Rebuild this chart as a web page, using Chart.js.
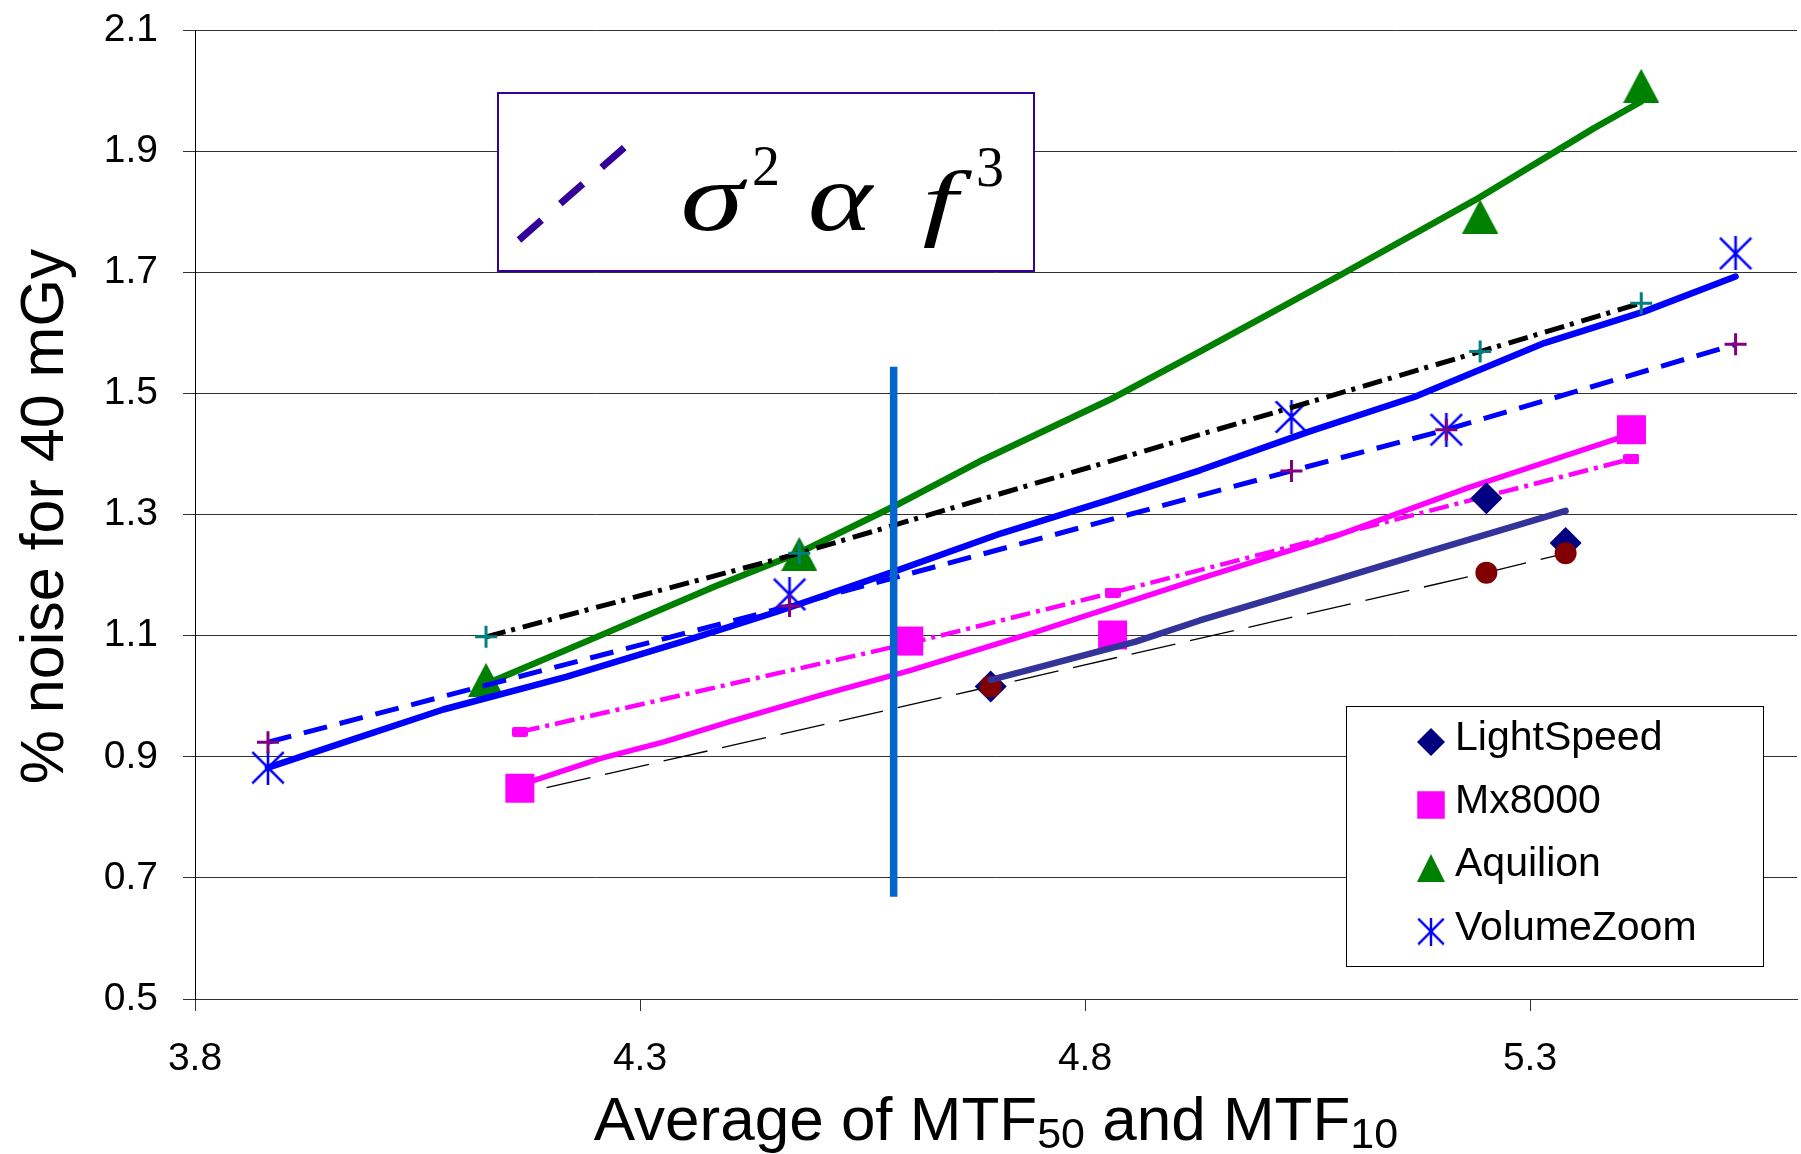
<!DOCTYPE html>
<html>
<head>
<meta charset="utf-8">
<title>Noise versus resolution</title>
<script src="https://cdn.jsdelivr.net/npm/chart.js@4.4.1/dist/chart.umd.min.js"></script>
<style>
  html, body { margin: 0; padding: 0; background: #ffffff; }
  #chart { display: block; }
</style>
</head>
<body>
<canvas id="chart" width="1801" height="1154"></canvas>
<script>
// ---- axis ticks ----
const xTicks = [3.8, 4.3, 4.8, 5.3];
const yTicks = [0.5, 0.7, 0.9, 1.1, 1.3, 1.5, 1.7, 1.9, 2.1];

// ---- measured noise for each scanner ----
const scannerNames = ['LightSpeed', 'Mx8000', 'Aquilion', 'VolumeZoom'];
const lightSpeedX = [4.694, 5.251, 5.340];
const lightSpeedY = [1.016, 1.327, 1.253];
const mx8000X = [4.165, 4.602, 4.831, 5.414];
const mx8000Y = [0.848, 1.091, 1.101, 1.440];
const aquilionX = [4.127, 4.479, 5.244, 5.425];
const aquilionY = [1.027, 1.235, 1.792, 2.008];
const volumeZoomX = [3.882, 4.468, 5.032, 5.206, 5.531];
const volumeZoomY = [0.882, 1.168, 1.461, 1.440, 1.731];

// ---- noise predicted by sigma^2 ~ f^3 at the same resolutions ----
const lightSpeedModelX = [4.195, 4.694, 5.251, 5.340];
const lightSpeedModelY = [0.849, 1.016, 1.204, 1.236];
const mx8000ModelY = [0.941, 1.087, 1.171, 1.392];
const aquilionModelY = [1.098, 1.236, 1.569, 1.649];
const volumeZoomModelY = [0.924, 1.149, 1.372, 1.440, 1.581];

// ---- fitted curves through the measurements ----
const aquilionFitX = [4.127, 4.255, 4.384, 4.479, 4.586, 4.685, 4.827, 4.929, 5.084, 5.238, 5.372, 5.425];
const aquilionFitY = [1.020, 1.100, 1.181, 1.237, 1.314, 1.390, 1.489, 1.569, 1.693, 1.819, 1.938, 1.982];
const volumeZoomFitX = [3.882, 3.980, 4.079, 4.217, 4.354, 4.453, 4.586, 4.706, 4.827, 4.929, 5.050, 5.170, 5.316, 5.428, 5.531];
const volumeZoomFitY = [0.882, 0.930, 0.978, 1.032, 1.093, 1.139, 1.206, 1.269, 1.324, 1.373, 1.436, 1.494, 1.583, 1.635, 1.693];
const mx8000FitX = [4.165, 4.255, 4.328, 4.401, 4.504, 4.605, 4.745, 4.929, 5.079, 5.230, 5.414];
const mx8000FitY = [0.853, 0.897, 0.925, 0.958, 1.002, 1.043, 1.106, 1.194, 1.263, 1.344, 1.433];
const lightSpeedFitX = [4.694, 4.736, 4.792, 4.857, 4.929, 5.075, 5.187, 5.340];
const lightSpeedFitY = [1.027, 1.043, 1.065, 1.090, 1.125, 1.189, 1.239, 1.306];

// ---- vertical reference line ----
const referenceX = [4.585, 4.585];
const referenceY = [0.669, 1.544];

// ---- titles ----
const yTitle = '% noise for 40 mGy';
const xTitleRuns = [['Average of MTF', false], ['50', true], [' and MTF', false], ['10', true]];

const SANS = '"Liberation Sans", Arial, Helvetica, sans-serif';
const SERIF = '"Liberation Serif", "Times New Roman", serif';

const zip = (xs, ys) => xs.map((x, i) => ({ x: x, y: ys[i] }));

// ---- marker glyphs ----
function makeTriangle(w, h, color) {
  const cv = document.createElement('canvas');
  cv.width = w; cv.height = h;
  const g = cv.getContext('2d');
  g.fillStyle = color;
  g.beginPath();
  g.moveTo(w / 2, 0); g.lineTo(w, h); g.lineTo(0, h);
  g.closePath(); g.fill();
  return cv;
}
function makeAsterisk(w, h, color, lw) {
  const cv = document.createElement('canvas');
  cv.width = w; cv.height = h;
  const g = cv.getContext('2d');
  g.strokeStyle = color; g.lineWidth = lw;
  const p = lw / 2;
  g.beginPath();
  g.moveTo(w / 2, 0); g.lineTo(w / 2, h);
  g.moveTo(p, p); g.lineTo(w - p, h - p);
  g.moveTo(w - p, p); g.lineTo(p, h - p);
  g.stroke();
  return cv;
}
function makeBar(w, h, color) {
  const cv = document.createElement('canvas');
  cv.width = w; cv.height = h;
  const g = cv.getContext('2d');
  g.fillStyle = color;
  g.beginPath();
  g.roundRect(0, 0, w, h, 2);
  g.fill();
  return cv;
}
const triangleMark = makeTriangle(36, 34, '#008000');
const asteriskMark = makeAsterisk(34, 34, '#0000FF', 2.6);
const barMark = makeBar(16, 10, '#FF00FF');
const triangleKey = makeTriangle(28, 28, '#008000');
const asteriskKey = makeAsterisk(28, 28, '#0000FF', 2.4);

const datasets = [
  { label: 'reference', data: zip(referenceX, referenceY), showLine: true,
    borderColor: '#0066CC', borderWidth: 7.5, pointRadius: 0 },
  { label: 'LightSpeed fit', data: zip(lightSpeedFitX, lightSpeedFitY), showLine: true,
    borderColor: '#333399', borderWidth: 6.5, pointRadius: 0,
    borderCapStyle: 'round', borderJoinStyle: 'round' },
  { label: 'LightSpeed f^3', data: zip(lightSpeedModelX, lightSpeedModelY), showLine: true,
    borderColor: '#000000', borderWidth: 1.3, borderDash: [45, 15],
    pointStyle: 'circle', pointRadius: [0, 11, 11, 11],
    pointBackgroundColor: '#800000', pointBorderColor: '#800000', pointBorderWidth: 0 },
  { label: 'LightSpeed', data: zip(lightSpeedX, lightSpeedY), showLine: false,
    pointStyle: 'rectRot', pointRadius: 16,
    pointBackgroundColor: '#000080', pointBorderWidth: 0 },
  { label: 'Aquilion f^3', data: zip(aquilionX, aquilionModelY), showLine: true,
    borderColor: '#000000', borderWidth: 5, borderDash: [20, 6, 4, 8],
    pointStyle: 'cross', pointRadius: 11, pointBorderColor: '#008080', pointBorderWidth: 3 },
  { label: 'VolumeZoom f^3', data: zip(volumeZoomX, volumeZoomModelY), showLine: true,
    borderColor: '#0000FF', borderWidth: 5, borderDash: [24, 13],
    pointStyle: 'cross', pointRadius: 11, pointBorderColor: '#800080', pointBorderWidth: 3 },
  { label: 'Mx8000 f^3', data: zip(mx8000X, mx8000ModelY), showLine: true,
    borderColor: '#FF00FF', borderWidth: 4.5, borderDash: [20, 6, 4, 6],
    pointStyle: barMark, pointRadius: 8 },
  { label: 'Aquilion fit', data: zip(aquilionFitX, aquilionFitY), showLine: true,
    borderColor: '#008000', borderWidth: 6.5, pointRadius: 0,
    borderCapStyle: 'round', borderJoinStyle: 'round' },
  { label: 'VolumeZoom fit', data: zip(volumeZoomFitX, volumeZoomFitY), showLine: true,
    borderColor: '#0000FF', borderWidth: 6.5, pointRadius: 0,
    borderCapStyle: 'round', borderJoinStyle: 'round' },
  { label: 'Mx8000 fit', data: zip(mx8000FitX, mx8000FitY), showLine: true,
    borderColor: '#FF00FF', borderWidth: 5.5, pointRadius: 0,
    borderCapStyle: 'round', borderJoinStyle: 'round' },
  { label: 'Aquilion', data: zip(aquilionX, aquilionY), showLine: false,
    pointStyle: triangleMark, pointRadius: 16 },
  { label: 'VolumeZoom', data: zip(volumeZoomX, volumeZoomY), showLine: false,
    pointStyle: asteriskMark, pointRadius: 16 },
  { label: 'Mx8000', data: zip(mx8000X, mx8000Y), showLine: false,
    pointStyle: 'rect', pointRadius: 20.5,
    pointBackgroundColor: '#FF00FF', pointBorderWidth: 0 }
];

// ---- axis titles (x title carries subscripts) ----
const axisTitles = {
  id: 'axisTitles',
  afterDraw(chart) {
    const c = chart.ctx, a = chart.chartArea;
    c.save();
    c.fillStyle = '#000000';
    c.save();
    c.translate(63, (a.top + a.bottom) / 2 + 2);
    c.rotate(-Math.PI / 2);
    c.font = '61px ' + SANS;
    c.textAlign = 'center';
    c.textBaseline = 'alphabetic';
    c.fillText(yTitle, 0, 0);
    c.restore();

    const mainFont = '62px ' + SANS, subFont = '43px ' + SANS;
    let total = 0;
    const widths = xTitleRuns.map(([t, sub]) => {
      c.font = sub ? subFont : mainFont;
      const w = c.measureText(t).width;
      total += w;
      return w;
    });
    let x = (a.left + a.right) / 2 - total / 2;
    c.textAlign = 'left';
    c.textBaseline = 'alphabetic';
    xTitleRuns.forEach(([t, sub], i) => {
      c.font = sub ? subFont : mainFont;
      c.fillText(t, x, sub ? 1148 : 1140);
      x += widths[i];
    });
    c.restore();
  }
};

// ---- boxed note: sigma^2 proportional to f^3 ----
const formulaNote = {
  id: 'formulaNote',
  afterDraw(chart) {
    const c = chart.ctx;
    const box = { x: 498, y: 93, w: 536, h: 178 };
    c.save();
    c.fillStyle = '#ffffff';
    c.fillRect(box.x, box.y, box.w, box.h);
    c.strokeStyle = '#330099';
    c.lineWidth = 2;
    c.strokeRect(box.x, box.y, box.w, box.h);

    c.strokeStyle = '#330099';
    c.lineWidth = 7;
    c.setLineDash([30, 25]);
    c.beginPath();
    c.moveTo(519, 240);
    c.lineTo(625, 147);
    c.stroke();
    c.setLineDash([]);

    c.fillStyle = '#000000';
    c.textAlign = 'center';
    c.textBaseline = 'alphabetic';
    // [text, centre x, baseline y, font, horizontal stretch]
    const glyphs = [
      ['σ', 712, 230, 'italic 98px ', 1.3],
      ['2', 766, 185, '56px ', 1.0],
      ['α', 840, 230, 'italic 98px ', 1.25],
      ['f', 940, 230, 'italic 84px ', 1.5],
      ['3', 990, 186, '56px ', 1.0]
    ];
    glyphs.forEach(([t, x, y, f, sx]) => {
      c.save();
      c.translate(x, y);
      c.scale(sx, 1);
      c.font = f + SERIF;
      c.fillText(t, 0, 0);
      c.restore();
    });
    c.restore();
  }
};

// ---- legend box for the four scanners ----
const scannerLegend = {
  id: 'scannerLegend',
  afterDraw(chart) {
    const c = chart.ctx;
    const box = { x: 1346, y: 706, w: 417, h: 260 };
    c.save();
    c.fillStyle = '#ffffff';
    c.fillRect(box.x, box.y, box.w, box.h);
    c.strokeStyle = '#000000';
    c.lineWidth = 1;
    c.strokeRect(box.x + 0.5, box.y + 0.5, box.w, box.h);

    const markerX = 1431, textX = 1455;
    const rows = [739, 802, 865, 928.5];
    scannerNames.forEach((name, i) => {
      const my = rows[i] + 3;
      if (i === 0) {
        c.fillStyle = '#000080';
        c.beginPath();
        c.moveTo(markerX - 14, my); c.lineTo(markerX, my - 14);
        c.lineTo(markerX + 14, my); c.lineTo(markerX, my + 14);
        c.closePath(); c.fill();
      } else if (i === 1) {
        c.fillStyle = '#FF00FF';
        c.fillRect(markerX - 13.75, my - 13.75, 27.5, 27.5);
      } else if (i === 2) {
        c.drawImage(triangleKey, markerX - 14, my - 14);
      } else {
        c.drawImage(asteriskKey, markerX - 14, my - 14);
      }
      c.fillStyle = '#000000';
      c.font = '41px ' + SANS;
      c.textAlign = 'left';
      c.textBaseline = 'middle';
      c.fillText(name, textX, rows[i]);
    });
    c.restore();
  }
};

const tickFont = { family: SANS, size: 39 };

new Chart(document.getElementById('chart'), {
  type: 'scatter',
  data: { datasets: datasets },
  options: {
    responsive: false,
    animation: false,
    devicePixelRatio: 1,
    layout: { autoPadding: false, padding: { top: 30, right: 4, left: 0, bottom: 0 } },
    plugins: { legend: { display: false }, tooltip: { enabled: false } },
    elements: { line: { tension: 0 } },
    scales: {
      x: {
        type: 'linear', min: 3.8, max: 5.6,
        afterBuildTicks: s => { s.ticks = xTicks.map(v => ({ value: v })); },
        afterFit: s => { s.height = 155; s.paddingLeft = 0; s.paddingRight = 0; },
        grid: { display: true, drawOnChartArea: false, drawTicks: true, tickLength: 12, color: '#333333', lineWidth: 1 },
        border: { display: true, color: '#333333', width: 1 },
        ticks: { font: tickFont, color: '#000000', padding: 25, maxRotation: 0,
                 callback: v => Number(v).toFixed(1) }
      },
      y: {
        type: 'linear', min: 0.5, max: 2.1,
        afterBuildTicks: s => { s.ticks = yTicks.map(v => ({ value: v })); },
        afterFit: s => { s.width = 195; s.paddingTop = 0; s.paddingBottom = 0; },
        grid: { display: true, drawOnChartArea: true, drawTicks: true, tickLength: 12, color: '#333333', lineWidth: 1 },
        border: { display: true, color: '#000000', width: 1 },
        ticks: { font: tickFont, color: '#000000', padding: 25,
                 callback: v => Number(v).toFixed(1) }
      }
    }
  },
  plugins: [axisTitles, formulaNote, scannerLegend]
});
</script>
</body>
</html>
